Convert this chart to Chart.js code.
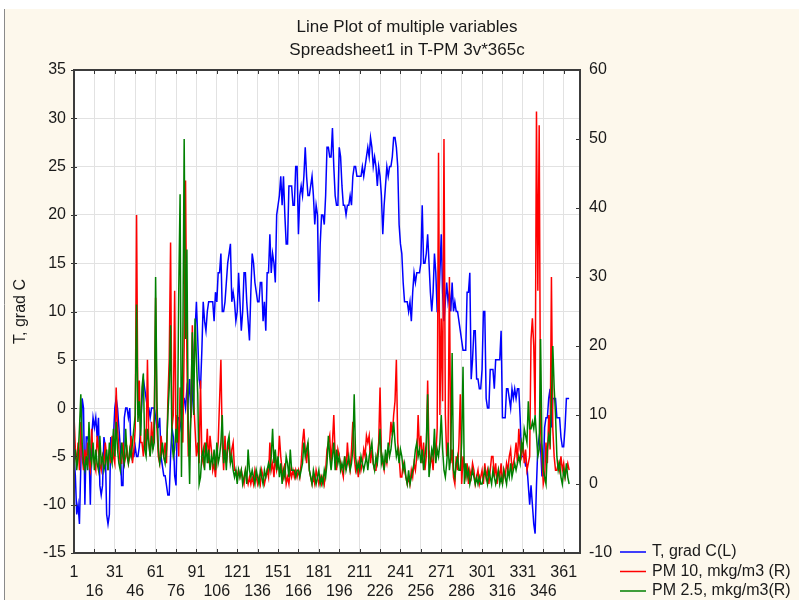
<!DOCTYPE html>
<html>
<head>
<meta charset="utf-8">
<script src="https://cdn.jsdelivr.net/npm/chart.js@4.4.1/dist/chart.umd.min.js"></script>
<style>
  html, body { margin: 0; padding: 0; background: #fff; }
</style>
</head>
<body>
<canvas id="plot" width="799" height="600"></canvas>
<script>
// day numbers 1..365 (categories)
const days = Array.from({ length: 365 }, (_, i) => i + 1);
const xTicks = [1, 16, 31, 46, 61, 76, 91, 106, 121, 136, 151, 166, 181, 196, 211, 226, 241, 256, 271, 286, 301, 316, 331, 346, 361];
const titleLines = ['Line Plot of multiple variables', 'Spreadsheet1 in T-PM 3v*365c'];
const yTitle = 'T, grad C';
const seriesNames = ['T, grad C(L)', 'PM 10, mkg/m3 (R)', 'PM 2.5, mkg/m3(R)'];

// temperature, left axis
const tempC = [
  -5, -7, -11, -10, -12, -6, 1, 0, -10, -3,
  -3, -4, -10, -3, -1, -2, -1, -3, -1, -8,
  -9, -8, -3, -4, -11, -12, -11, -3, -4, -3,
  0, 1, 0, -2, -4, -8, -8, -1, 0, 0,
  -1, 0, -5, -5, -5, -4, -5, -5, -4, -2,
  1, 3, 2, 1, 0, 0, -1, 0, 0, 0,
  -1, -2, -2, -1, -5, -6, -7, -7, -8, -9,
  -9, -5, -2, -3, -7, -8, -1, -1, -2, -1,
  1, 1, 0, 2, 1, 3, -1, 1, 5, 8,
  11, 7, 3, 2, 6, 11, 9, 8, 10, 11,
  11, 11, 11, 9, 12, 11, 14, 14, 16, 10,
  10, 11, 13, 15, 16, 17, 11, 12, 11, 9,
  10, 14, 11, 8, 10, 14, 14, 11, 9, 7,
  12, 16, 15, 13, 12, 11, 11, 13, 13, 9,
  11, 8, 14, 14, 18, 14, 16, 15, 13, 20,
  21, 22, 24, 21, 24, 20, 17, 17, 23, 23,
  23, 21, 21, 25, 25, 18, 22, 23, 22, 24,
  27, 24, 22, 22, 23, 24, 22, 19, 21, 20,
  11, 17, 20, 20, 19, 22, 27, 27, 26, 26,
  29, 25, 22, 21, 21, 27, 26, 23, 21, 21,
  20, 21, 21, 22, 21, 24, 25, 25, 24, 24,
  24, 24, 25, 24, 25, 26, 27, 26, 28, 27,
  25, 26, 25, 23, 25, 24, 22, 18, 21, 23,
  25, 24, 25, 25, 26, 28, 28, 27, 25, 19,
  17, 16, 13, 11, 11, 11, 10, 11, 9, 12,
  14, 13, 14, 14, 14, 15, 21, 15, 15, 16,
  18, 15, 12, 10, 12, 16, 14, 10, 10, 14,
  18, 12, 9, 11, 13, 11, 12, 10, 13, 10,
  11, 10, 10, 9, 8, 7, 6, 6, 6, 12,
  12, 14, 3, 5, 8, 8, 3, 3, 2, 2,
  4, 10, 10, 1, 0, 0, 4, 4, 4, 2,
  5, 5, 5, 5, 8, -1, -1, -1, 2, 2,
  1, 0, 2, 1, 2, 1, 2, 2, -1, -5,
  -5, -5, -6, -6, -8, -10, -8, -10, -12, -13,
  -8, -4, -3, -4, -7, -7, -2, -1, -1, 1,
  2, -2, 1, 1, 1, -1, -1, -1, -3, -4,
  -4, -2, 1, 1, 1
];

// PM10, right axis
const pm10 = [
  10, 5, 3, 6, 2, 9, 4, 2, 5, 3,
  6, 3, 2, 8, 4, 3, 2, 7, 5, 3,
  2, 4, 3, 6, 4, 2, 5, 3, 7, 4,
  3, 14, 8, 5, 3, 3, 6, 3, 4, 5,
  3, 4, 7, 3, 5, 8, 39, 10, 15, 6,
  6, 4, 8, 5, 18, 6, 4, 9, 5, 10,
  27, 8, 4, 3, 7, 5, 4, 6, 3, 12,
  18, 35, 8, 10, 28, 6, 10, 4, 14, 9,
  6, 20, 44, 18, 4, 6, 10, 23, 12, 8,
  4, 6, 3, 15, 4, 3, 6, 4, 8, 3,
  7, 5, 2, 3, 1, 4, 6, 12, 18, 6,
  2, 7, 3, 5, 6, 3, 5, 6, 2, 2,
  1, 2, 1, 2, 1, 0, 2, 1, 0, 1,
  0, 1, 0, 2, 1, 0, 1, 0, 2, 1,
  0, 1, 2, 1, 6, 2, 3, 1, 4, 2,
  3, 7, 4, 2, 1, 3, 0, 1, 0, 2,
  1, 2, 1, 2, 1, 2, 1, 3, 6, 8,
  5, 3, 6, 2, 1, 0, 1, 0, 2, 1,
  0, 1, 0, 1, 0, 2, 5, 6, 7, 3,
  6, 10, 4, 2, 5, 4, 3, 2, 1, 4,
  2, 6, 3, 2, 5, 9, 4, 2, 3, 1,
  4, 2, 3, 5, 4, 7, 6, 7, 3, 5,
  3, 2, 2, 4, 6, 14, 4, 3, 2, 4,
  3, 5, 6, 9, 7, 10, 12, 18, 6, 4,
  1, 1, 3, 2, 1, 0, 1, 0, 2, 1,
  3, 2, 4, 10, 5, 7, 3, 6, 2, 4,
  15, 5, 3, 4, 2, 6, 4, 8, 48, 10,
  24, 12, 50, 10, 4, 6, 30, 3, 5, 1,
  0, 4, 2, 6, 13, 0, 4, 2, 1, 3,
  0, 2, 1, 3, 2, 0, 1, 2, 0, 1,
  2, 0, 3, 1, 2, 0, 2, 4, 4, 1,
  3, 0, 2, 1, 3, 0, 2, 1, 3, 2,
  4, 5, 2, 3, 4, 6, 3, 8, 5, 4,
  6, 3, 5, 2, 3, 4, 21, 24, 20, 10,
  54, 28, 52, 8, 4, 0, 1, 6, 3, 10,
  5, 30, 8, 4, 2, 2, 3, 2, 4, 2,
  3, 1, 2, 3, 2
];

// PM2.5, right axis
const pm25 = [
  3, 5, 2, 4, 8, 13, 6, 3, 2, 4,
  2, 9, 4, 3, 6, 2, 5, 3, 2, 7,
  3, 4, 2, 3, 5, 2, 6, 4, 3, 8,
  4, 9, 5, 3, 2, 6, 4, 3, 8, 4,
  3, 5, 4, 6, 8, 10, 26, 9, 12, 7,
  14, 16, 5, 4, 8, 6, 4, 7, 5, 6,
  30, 12, 5, 3, 4, 6, 4, 3, 5, 10,
  14, 23, 6, 4, 5, 8, 6, 28, 42, 1,
  20, 50, 21, 34, 8, 0, 12, 22, 10, 24,
  18, 13, 0, 1, 4, 5, 2, 6, 3, 5,
  2, 4, 3, 5, 2, 6, 3, 4, 6, 10,
  3, 5, 2, 6, 7, 3, 4, 2, 1, 2,
  0, 2, 1, 2, 0, 1, 2, 0, 5, 2,
  1, 2, 1, 0, 2, 1, 0, 2, 1, 0,
  2, 1, 2, 3, 2, 4, 8, 3, 5, 2,
  4, 1, 3, 0, 2, 1, 4, 3, 1, 5,
  2, 2, 2, 1, 2, 2, 1, 2, 3, 6,
  4, 5, 6, 2, 1, 0, 2, 1, 0, 1,
  2, 0, 1, 0, 2, 1, 3, 7, 4, 2,
  4, 6, 2, 5, 3, 4, 2, 3, 2, 4,
  2, 3, 4, 2, 3, 5, 13, 4, 2, 3,
  2, 4, 3, 2, 3, 4, 2, 4, 5, 6,
  3, 2, 4, 3, 5, 8, 3, 4, 2, 5,
  3, 6, 4, 5, 7, 9, 6, 4, 5, 3,
  5, 4, 2, 3, 1, 0, 2, 0, 1, 2,
  3, 5, 6, 4, 5, 3, 5, 2, 4, 6,
  13, 1, 3, 5, 4, 8, 3, 5, 4, 6,
  10, 5, 2, 1, 3, 6, 2, 4, 19, 2,
  1, 3, 4, 2, 2, 6, 17, 0, 3, 1,
  2, 0, 1, 2, 1, 0, 1, 0, 1, 0,
  0, 1, 2, 1, 0, 2, 1, 0, 2, 1,
  0, 1, 2, 0, 1, 0, 2, 1, 0, 2,
  1, 3, 1, 2, 3, 2, 3, 4, 3, 6,
  5, 8, 7, 6, 12, 8, 8, 9, 8, 10,
  7, 4, 5, 21, 6, 2, 1, 0, 5, 7,
  6, 12, 20, 14, 10, 4, 2, 3, 1, 0,
  2, 1, 3, 1, 0
];

const FONT = '"Liberation Sans", Arial, sans-serif';

const decor = {
  id: 'decor',
  beforeDraw(chart) {
    const c = chart.ctx, a = chart.chartArea;
    c.save();
    c.fillStyle = '#ffffff';
    c.fillRect(0, 0, chart.width, chart.height);
    c.fillStyle = '#fdf8ec';
    c.fillRect(5, 9, chart.width - 5, chart.height - 9);
    c.strokeStyle = '#8a8a8a';
    c.lineWidth = 1;
    c.beginPath();
    c.moveTo(4.5, 9);
    c.lineTo(4.5, chart.height);
    c.stroke();
    c.fillStyle = '#ffffff';
    c.fillRect(a.left, a.top, a.right - a.left, a.bottom - a.top);
    c.restore();
  },
  afterDraw(chart) {
    const c = chart.ctx, a = chart.chartArea, s = chart.scales;
    c.save();
    c.strokeStyle = '#333';
    c.lineWidth = 1;
    c.beginPath();
    xTicks.forEach(v => {
      const px = Math.round(s.x.getPixelForValue(v)) + 0.5;
      c.moveTo(px, a.top); c.lineTo(px, a.top + 4);
      c.moveTo(px, a.bottom); c.lineTo(px, a.bottom - 4);
    });
    s.y.ticks.forEach(t => {
      const py = Math.round(s.y.getPixelForValue(t.value)) + 0.5;
      c.moveTo(a.left - 3, py); c.lineTo(a.left + 3, py);
    });
    s.y1.ticks.forEach(t => {
      const py = Math.round(s.y1.getPixelForValue(t.value)) + 0.5;
      c.moveTo(a.right - 4, py); c.lineTo(a.right, py);
    });
    c.stroke();

    c.strokeStyle = '#3c3c3c';
    c.lineWidth = 2;
    c.strokeRect(a.left, a.top, a.right - a.left, a.bottom - a.top);

    c.fillStyle = '#1a1a1a';
    c.font = '17px ' + FONT;
    c.textAlign = 'center';
    c.textBaseline = 'middle';
    c.fillText(titleLines[0], 407, 27);
    c.fillText(titleLines[1], 407, 50);

    c.font = '16px ' + FONT;
    c.save();
    c.translate(21, (a.top + a.bottom) / 2);
    c.rotate(-Math.PI / 2);
    c.fillText(yTitle, 0, 0);
    c.restore();

    // legend, bottom right
    c.textAlign = 'left';
    chart.data.datasets.forEach((ds, i) => {
      const y = 552 + i * 19.5;
      c.strokeStyle = ds.borderColor;
      c.lineWidth = 1.5;
      c.beginPath();
      c.moveTo(620, y); c.lineTo(646, y);
      c.stroke();
      c.fillStyle = '#1a1a1a';
      c.fillText(ds.label, 652, y);
    });
    c.restore();
  }
};

const ctx = document.getElementById('plot');

new Chart(ctx, {
  type: 'line',
  data: {
    labels: days,
    datasets: [
      { label: seriesNames[0], data: tempC, yAxisID: 'y', borderColor: '#0000ff', order: 3 },
      { label: seriesNames[1], data: pm10, yAxisID: 'y1', borderColor: '#ff0000', order: 2 },
      { label: seriesNames[2], data: pm25, yAxisID: 'y1', borderColor: '#008000', order: 1 }
    ]
  },
  options: {
    responsive: false,
    animation: false,
    devicePixelRatio: 1,
    layout: { padding: { top: 70, left: 0, right: 0, bottom: 0 } },
    elements: {
      point: { radius: 0 },
      line: { borderWidth: 1.5, tension: 0 }
    },
    plugins: {
      legend: { display: false },
      title: { display: false },
      tooltip: { enabled: false }
    },
    scales: {
      x: {
        type: 'linear',
        min: 1,
        max: 373,
        afterBuildTicks(scale) {
          scale.ticks = xTicks.map(v => ({ value: v }));
        },
        afterFit(scale) { scale.height = 47; },
        grid: { color: '#e2e2e2', drawTicks: false },
        border: { display: false },
        ticks: {
          autoSkip: false,
          maxRotation: 0,
          minRotation: 0,
          padding: 10,
          color: '#1a1a1a',
          font: { family: FONT, size: 16, lineHeight: 1.2 },
          callback(value, index) {
            return index % 2 === 0 ? [String(value), ''] : ['', String(value)];
          }
        }
      },
      y: {
        position: 'left',
        min: -15,
        max: 35,
        afterFit(scale) { scale.width = 74; },
        grid: { color: '#e2e2e2', drawTicks: false },
        border: { display: false },
        ticks: {
          stepSize: 5,
          padding: 8,
          color: '#1a1a1a',
          font: { family: FONT, size: 16 }
        }
      },
      y1: {
        position: 'right',
        min: -10,
        max: 60,
        afterFit(scale) { scale.width = 219; },
        grid: { drawOnChartArea: false, drawTicks: false },
        border: { display: false },
        ticks: {
          stepSize: 10,
          padding: 9,
          color: '#1a1a1a',
          font: { family: FONT, size: 16 }
        }
      }
    }
  },
  plugins: [decor]
});
</script>
</body>
</html>
